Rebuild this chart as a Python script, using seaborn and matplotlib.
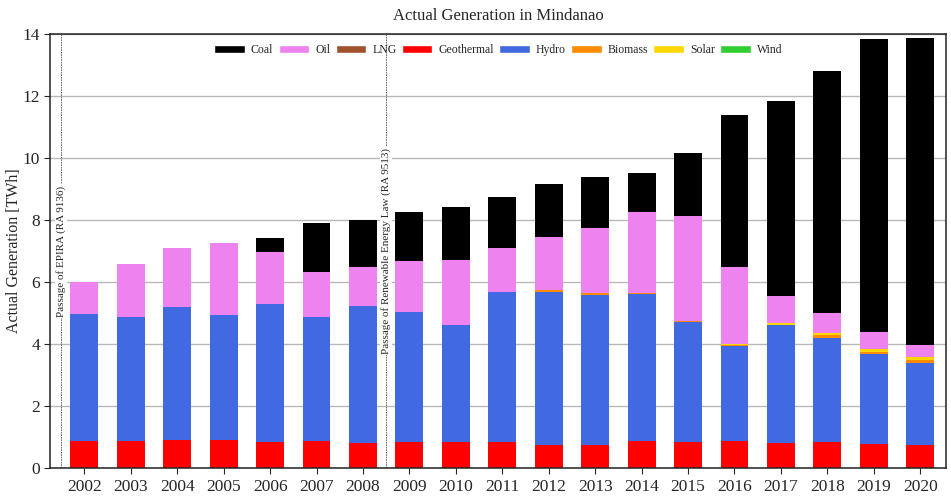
import numpy as np
import matplotlib
matplotlib.use("Agg")
import matplotlib.pyplot as plt
from matplotlib.patches import Patch
import seaborn as sns

years = [str(y) for y in range(2002, 2021)]

# TWh per source
geothermal = [0.88, 0.88, 0.91, 0.91, 0.85, 0.88, 0.81, 0.84, 0.84, 0.84,
              0.74, 0.74, 0.87, 0.84, 0.87, 0.81, 0.84, 0.77, 0.74]
hydro = [4.09, 3.99, 4.28, 4.03, 4.44, 3.99, 4.42, 4.19, 3.77, 4.84,
         4.94, 4.84, 4.74, 3.87, 3.07, 3.80, 3.35, 2.91, 2.65]
biomass = [0, 0, 0, 0, 0, 0, 0, 0, 0, 0,
           0.07, 0.06, 0.03, 0.03, 0.02, 0.02, 0.10, 0.07, 0.09]
solar = [0, 0, 0, 0, 0, 0, 0, 0, 0, 0,
         0, 0, 0, 0, 0.05, 0.05, 0.06, 0.09, 0.10]
wind = [0] * 19
lng = [0] * 19
oil = [1.03, 1.72, 1.91, 2.32, 1.68, 1.45, 1.25, 1.65, 2.10, 1.42,
       1.70, 2.10, 2.62, 3.39, 2.47, 0.87, 0.65, 0.55, 0.39]
coal = [0, 0, 0, 0, 0.45, 1.58, 1.52, 1.58, 1.71, 1.64,
        1.71, 1.66, 1.26, 2.03, 4.91, 6.29, 7.81, 9.45, 9.90]

colors = {"Coal": "black", "Oil": "violet", "LNG": "sienna",
          "Geothermal": "red", "Hydro": "royalblue", "Biomass": "darkorange",
          "Solar": "gold", "Wind": "limegreen"}

sns.set_style("ticks")
plt.rcParams["font.family"] = ["Liberation Serif", "DejaVu Serif"]

fig, ax = plt.subplots(figsize=(9.51, 4.98), dpi=100)
fig.subplots_adjust(left=0.053, right=0.995, top=0.932, bottom=0.06)

# stack bottom to top, drawn as cumulative bars from the tallest down
stack = [("Geothermal", geothermal), ("Hydro", hydro), ("Biomass", biomass),
         ("Solar", solar), ("Wind", wind), ("LNG", lng), ("Oil", oil), ("Coal", coal)]
cum = np.cumsum([np.array(v, dtype=float) for _, v in stack], axis=0)
for i in range(len(stack) - 1, -1, -1):
    name = stack[i][0]
    sns.barplot(x=years, y=cum[i], color=colors[name], saturation=1,
                width=0.6, errorbar=None, ax=ax, zorder=2, linewidth=0)

ax.set_ylim(0, 14)
ax.set_xlim(-0.73, 18.56)
ax.yaxis.grid(True, color="#b8b8b8", linewidth=1, zorder=0)
ax.set_axisbelow(True)
for s in ax.spines.values():
    s.set_visible(True)
    s.set_color("#222222")
    s.set_linewidth(1.1)

ax.tick_params(axis="both", labelsize=12.5, length=4)
ax.set_xlabel("")
ax.set_ylabel("Actual Generation [TWh]", fontsize=11.5)
ax.yaxis.set_label_coords(-0.032, 0.5)
ax.set_title("Actual Generation in Mindanao", fontsize=12, pad=10)

# policy markers
for xpos, label in [(-0.5, "Passage of EPIRA (RA 9136)"),
                    (6.5, "Passage of Renewable Energy Law (RA 9513)")]:
    ax.axvline(xpos, color="#555555", linestyle=(0, (2, 1)), linewidth=0.6, zorder=1)
    ax.text(xpos, 7, label, rotation=90, ha="center", va="center", fontsize=8,
            bbox=dict(facecolor="white", edgecolor="none", pad=1), zorder=3)

legend_order = ["Coal", "Oil", "LNG", "Geothermal", "Hydro", "Biomass", "Solar", "Wind"]
handles = [Patch(facecolor=colors[n], label=n) for n in legend_order]
ax.legend(handles=handles, loc="upper center", ncol=8, frameon=False,
          fontsize=8.5, handlelength=2.6, handleheight=0.7, handletextpad=0.5,
          columnspacing=0.45, bbox_to_anchor=(0.5, 1.0))

fig.savefig("out.png", dpi=100)
